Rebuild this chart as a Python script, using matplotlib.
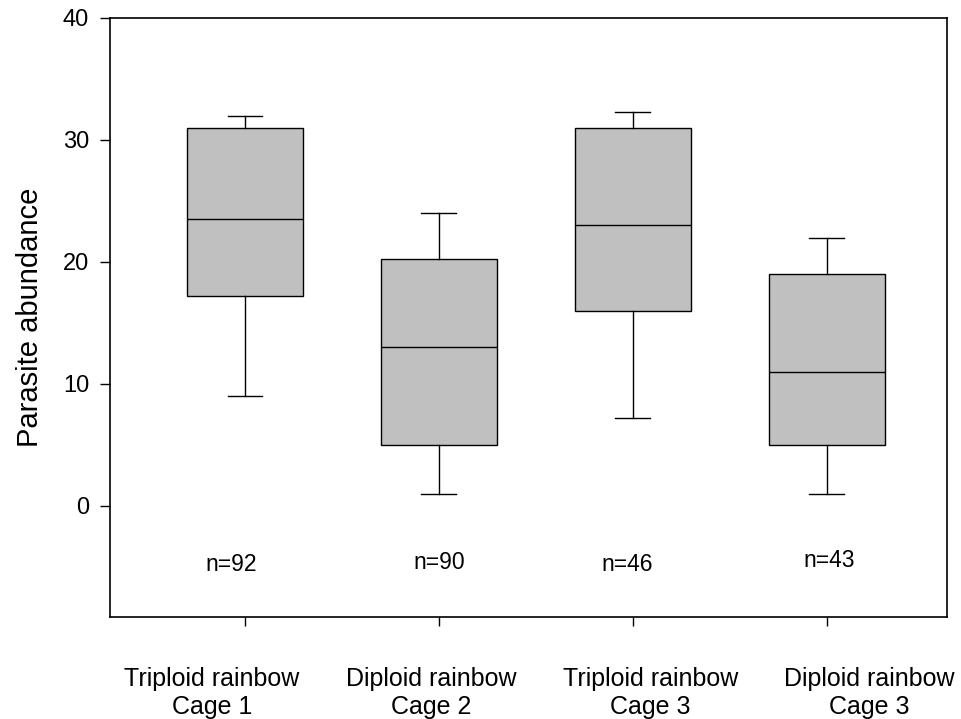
import matplotlib
matplotlib.use("Agg")
import matplotlib.pyplot as plt
import matplotlib.transforms as mtrans

plt.rcParams['font.family'] = ['Liberation Sans', 'DejaVu Sans']

# box summaries
groups = ['Triploid rainbow\nCage 1', 'Diploid rainbow\nCage 2',
          'Triploid rainbow\nCage 3', 'Diploid rainbow\nCage 3']
whisker_lo = [9.0, 1.0, 7.2, 1.0]
q1 = [17.2, 5.0, 16.0, 5.0]
median = [23.5, 13.0, 23.0, 11.0]
q3 = [31.0, 20.2, 31.0, 19.0]
whisker_hi = [32.0, 24.0, 32.3, 22.0]
n_obs = [92, 90, 46, 43]

# placement of the text labels (data units, not data)
n_label_dx = [-0.07, 0.0, -0.03, 0.01]
n_label_y = [-4.8, -4.6, -4.8, -4.5]
group_label_x = [0.83, 1.96, 3.09, 4.22]

stats = []
for i in range(len(groups)):
    stats.append({'whislo': whisker_lo[i], 'q1': q1[i], 'med': median[i],
                  'q3': q3[i], 'whishi': whisker_hi[i], 'fliers': []})

fig = plt.figure(figsize=(9.61, 7.19), dpi=100)
ax = fig.add_axes([0.1145, 0.142, 0.871, 0.833])

pos = list(range(1, len(groups) + 1))
lw = 1.0
ax.bxp(stats, positions=pos, widths=0.6, patch_artist=True, showfliers=False,
       boxprops=dict(facecolor='#c0c0c0', edgecolor='black', linewidth=lw),
       medianprops=dict(color='black', linewidth=lw),
       whiskerprops=dict(color='black', linewidth=lw),
       capprops=dict(color='black', linewidth=lw), capwidths=0.18)

for i, n in enumerate(n_obs):
    ax.text(pos[i] + n_label_dx[i], n_label_y[i], f'n={n}', ha='center',
            va='center', fontsize=16.5)

# category labels sit below the axis, not on the ticks
trans = mtrans.blended_transform_factory(ax.transData, ax.transAxes)
for x, g in zip(group_label_x, groups):
    ax.text(x, -0.083, g, transform=trans, ha='center', va='top',
            fontsize=18, linespacing=1.25, clip_on=False)

ax.set_xlim(0.304, 4.62)
ax.set_ylim(-9.1, 40)
ax.set_yticks([0, 10, 20, 30, 40])
ax.set_xticks(pos)
ax.set_xticklabels([])
ax.tick_params(axis='x', direction='out', length=6.5, width=1)
ax.tick_params(axis='y', direction='out', length=7, width=1, labelsize=17, pad=8)
for s in ax.spines.values():
    s.set_linewidth(1.2)
ax.set_ylabel('Parasite abundance', fontsize=21, labelpad=14)

fig.savefig('out.png', dpi=100)
